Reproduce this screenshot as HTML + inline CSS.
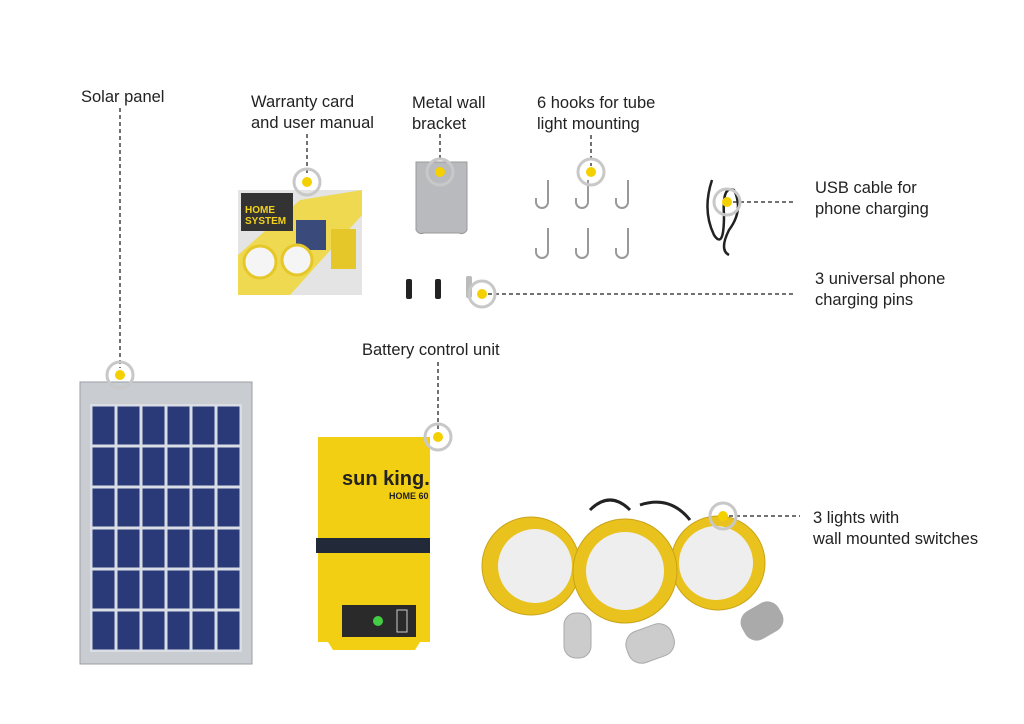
<!DOCTYPE html>
<html><head><style>
body{margin:0;background:#fff;}
svg{display:block;font-family:"Liberation Sans",sans-serif;}
</style></head><body>
<svg width="1024" height="724" viewBox="0 0 1024 724" xmlns="http://www.w3.org/2000/svg">
<defs>
<pattern id="cells" x="91" y="405" width="25" height="41" patternUnits="userSpaceOnUse">
<rect width="25" height="41" fill="#d8dde6"/><rect x="1.5" y="1.5" width="22" height="38" fill="#2a3a78"/>
</pattern>
</defs>
<g fill="#222" font-size="16.5">
<text x="81" y="102">Solar panel</text>
<text x="251" y="107">Warranty card</text><text x="251" y="128">and user manual</text>
<text x="412" y="108">Metal wall</text><text x="412" y="129">bracket</text>
<text x="537" y="108">6 hooks for tube</text><text x="537" y="129">light mounting</text>
<text x="815" y="193">USB cable for</text><text x="815" y="214">phone charging</text>
<text x="815" y="284">3 universal phone</text><text x="815" y="305">charging pins</text>
<text x="362" y="355">Battery control unit</text>
<text x="813" y="523">3 lights with</text><text x="813" y="544">wall mounted switches</text>
</g>
<g stroke="#444" stroke-width="1.5" stroke-dasharray="4,3" fill="none">
<line x1="120" y1="108" x2="120" y2="368"/>
<line x1="307" y1="134" x2="307" y2="175"/>
<line x1="440" y1="134" x2="440" y2="165"/>
<line x1="591" y1="135" x2="591" y2="166"/>
<line x1="733" y1="202" x2="793" y2="202"/>
<line x1="488" y1="294" x2="793" y2="294"/>
<line x1="438" y1="362" x2="438" y2="432"/>
<line x1="729" y1="516" x2="800" y2="516"/>
</g>
<rect x="80" y="382" width="172" height="282" fill="#c9ccd1" stroke="#9a9ea5"/>
<rect x="90" y="404" width="152" height="248" fill="url(#cells)"/>
<rect x="238" y="190" width="124" height="105" fill="#e4e4e4"/>
<polygon points="238,255 300,200 362,190 362,215 290,295 238,295" fill="#f0d62a" opacity=".8"/>
<rect x="241" y="193" width="52" height="38" fill="#333"/>
<text x="245" y="213" font-size="10" font-weight="bold" fill="#f3d21c">HOME</text>
<text x="245" y="224" font-size="10" font-weight="bold" fill="#f3d21c">SYSTEM</text>
<rect x="296" y="220" width="30" height="30" fill="#3a4a7a"/>
<circle cx="260" cy="262" r="16" fill="#f5f5f5" stroke="#e6c72a" stroke-width="3"/>
<circle cx="297" cy="260" r="15" fill="#f5f5f5" stroke="#e6c72a" stroke-width="3"/>
<rect x="331" y="229" width="25" height="40" fill="#e6c72a"/>
<path d="M416 162 h51 v68 q-3 5 -8 3 h-35 q-5 2 -8 -3z" fill="#b8babd" stroke="#999"/>
<g fill="none" stroke="#999" stroke-width="2">
<path d="M548 180 v22 a6 6 0 0 1 -12 0 v-4"/><path d="M588 180 v22 a6 6 0 0 1 -12 0 v-4"/><path d="M628 180 v22 a6 6 0 0 1 -12 0 v-4"/>
<path d="M548 228 v24 a6 6 0 0 1 -12 0 v-4"/><path d="M588 228 v24 a6 6 0 0 1 -12 0 v-4"/><path d="M628 228 v24 a6 6 0 0 1 -12 0 v-4"/>
</g>
<path d="M712 180 q-10 30 2 55 q10 15 10 -20 q-2 -30 10 -25 q10 20 -5 40 q-10 20 0 25" fill="none" stroke="#222" stroke-width="2.5"/>
<rect x="406" y="279" width="6" height="20" rx="2" fill="#222"/>
<rect x="435" y="279" width="6" height="20" rx="2" fill="#222"/>
<rect x="466" y="276" width="6" height="22" rx="2" fill="#bbb"/>
<path d="M318 437 h112 v205 h-10 l-5 8 h-82 l-5 -8 h-10z" fill="#f3cf14"/>
<rect x="316" y="538" width="114" height="15" fill="#222a3a"/>
<text x="342" y="485" font-size="20" font-weight="bold" fill="#222">sun king.</text>
<text x="389" y="499" font-size="9" font-weight="bold" fill="#222">HOME 60</text>
<rect x="342" y="605" width="74" height="32" fill="#2a2a2a"/>
<circle cx="378" cy="621" r="5" fill="#4c4"/>
<rect x="397" y="610" width="10" height="22" fill="none" stroke="#ccc"/>
<path d="M590 510 q20 -20 40 0 M640 505 q30 -10 50 15" stroke="#222" stroke-width="3" fill="none"/>
<g>
<circle cx="531" cy="566" r="49" fill="#e9c21d" stroke="#c9a317"/>
<circle cx="535" cy="566" r="37" fill="#eeeeee"/>
<circle cx="718" cy="563" r="47" fill="#e9c21d" stroke="#c9a317"/>
<circle cx="716" cy="563" r="37" fill="#eeeeee"/>
<circle cx="625" cy="571" r="52" fill="#e9c21d" stroke="#c9a317"/>
<circle cx="625" cy="571" r="39" fill="#eeeeee"/>
</g>
<rect x="564" y="613" width="27" height="45" rx="12" fill="#ccc" stroke="#aaa"/>
<rect x="626" y="627" width="48" height="33" rx="14" fill="#ccc" stroke="#aaa" transform="rotate(-20 650 643)"/>
<rect x="741" y="605" width="42" height="32" rx="13" fill="#aaa" transform="rotate(-30 762 621)"/>
<g fill="#f5d000" stroke="none">
<circle cx="120" cy="375" r="5"/><circle cx="307" cy="182" r="5"/><circle cx="440" cy="172" r="5"/>
<circle cx="591" cy="172" r="5"/><circle cx="727" cy="202" r="5"/><circle cx="482" cy="294" r="5"/>
<circle cx="438" cy="437" r="5"/><circle cx="723" cy="516" r="5"/>
</g>
<g fill="none" stroke="#c8c8c8" stroke-width="3">
<circle cx="120" cy="375" r="13"/><circle cx="307" cy="182" r="13"/><circle cx="440" cy="172" r="13"/>
<circle cx="591" cy="172" r="13"/><circle cx="727" cy="202" r="13"/><circle cx="482" cy="294" r="13"/>
<circle cx="438" cy="437" r="13"/><circle cx="723" cy="516" r="13"/>
</g>
</svg>
</body></html>
